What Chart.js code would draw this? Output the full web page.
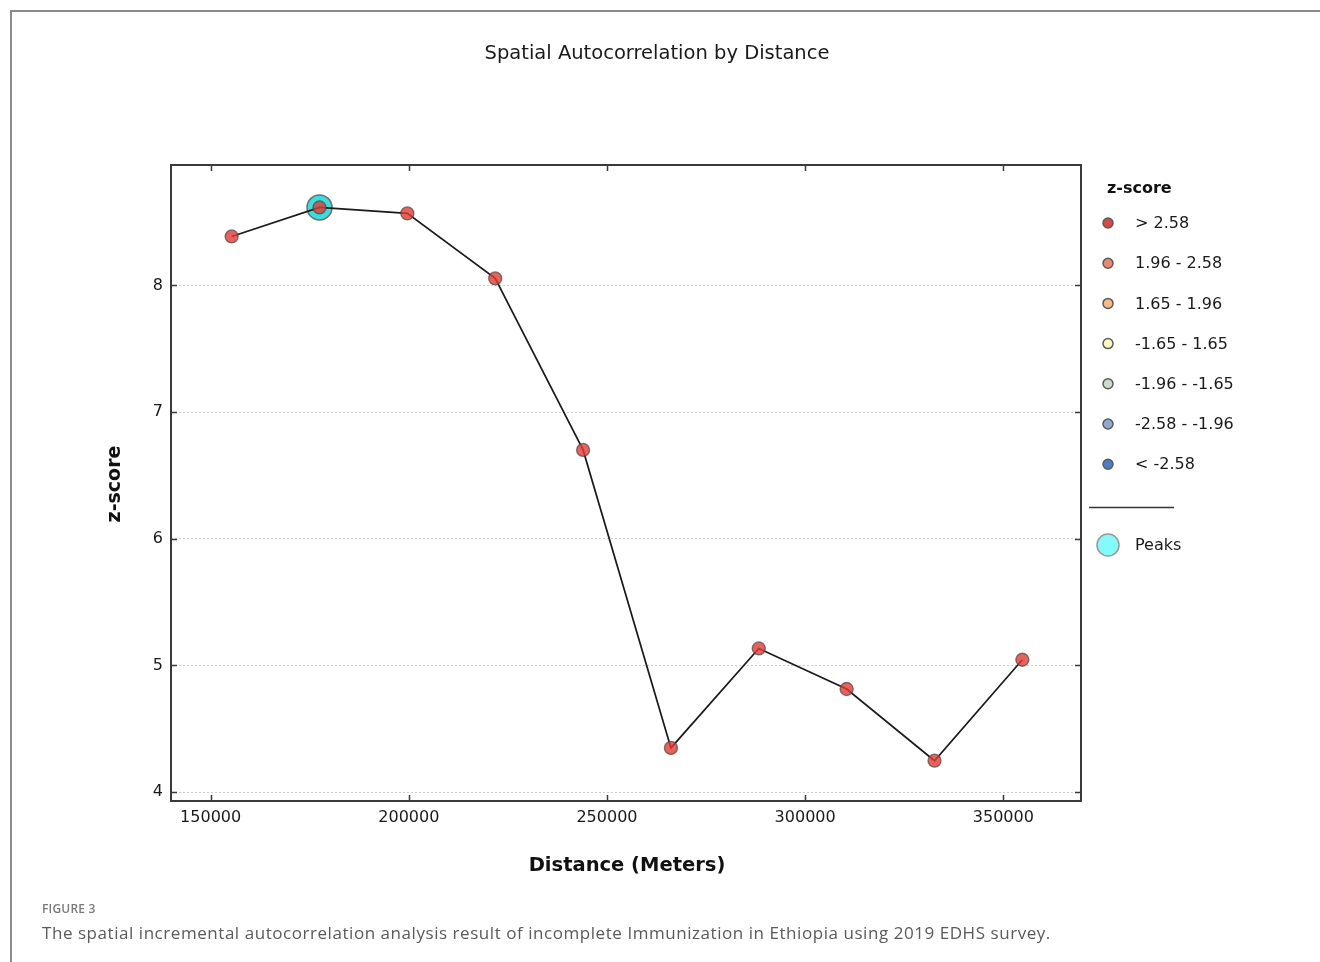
<!DOCTYPE html>
<html>
<head>
<meta charset="utf-8">
<script src="https://cdn.jsdelivr.net/npm/chart.js@4/dist/chart.umd.min.js"></script>
<style>
  html, body { margin: 0; padding: 0; background: #fff; }
  #wrap { position: relative; width: 1320px; height: 962px; overflow: hidden; }
  #chart { position: absolute; left: 0; top: 0; }
  #frame {
    position: absolute; left: 10px; top: 10px; width: 1400px; height: 1100px;
    border-left: 2px solid #8c8c8c; border-top: 2px solid #8c8c8c;
    pointer-events: none;
  }
  .figlabel {
    position: absolute; left: 42px; top: 900px;
    font-family: "Open Sans", sans-serif; font-size: 12px; font-weight: 600;
    color: #7a7a7a; letter-spacing: 0.2px;
  }
  .figcaption {
    position: absolute; left: 42px; top: 921px;
    font-family: "Open Sans", sans-serif; font-size: 17px; letter-spacing: 0.55px;
    color: #5a5a5a; white-space: nowrap;
  }
</style>
</head>
<body>
<div id="wrap">
  <canvas id="chart" width="1320" height="962"></canvas>
  <div id="frame"></div>
  <div class="figlabel">FIGURE 3</div>
  <div class="figcaption">The spatial incremental autocorrelation analysis result of incomplete Immunization in Ethiopia using 2019 EDHS survey.</div>
</div>
<script>
// Incremental distance bands (meters) and the z-score found at each band
const distances = [155300, 177470, 199630, 221800, 243970, 266140, 288300, 310470, 332640, 354800];
const zScores   = [8.386, 8.615, 8.568, 8.055, 6.701, 4.349, 5.134, 4.814, 4.248, 5.045];

// Peak distance band(s)
const peakDistances = [177470];
const peakZScores   = [8.615];

// Axis tick values
const xTickValues = [150000, 200000, 250000, 300000, 350000];
const yTickValues = [4, 5, 6, 7, 8];

// z-score classes shown in the legend
const classLabels = ["> 2.58", "1.96 - 2.58", "1.65 - 1.96", "-1.65 - 1.65", "-1.96 - -1.65", "-2.58 - -1.96", "< -2.58"];
const classColors = ["#d94a47", "#eb8a6a", "#f6ba85", "#fbfabd", "#cadccb", "#8ea9d2", "#4c7bc9"];

const chartTitle = "Spatial Autocorrelation by Distance";
const xTitle = "Distance (Meters)";
const yTitle = "z-score";
const legendTitle = "z-score";
const peakLabel = "Peaks";

const axisFont = '"DejaVu Sans", sans-serif';

const points = distances.map((d, i) => ({ x: d, y: zScores[i] }));
const peaks = peakDistances.map((d, i) => ({ x: d, y: peakZScores[i] }));

// Frame, inward ticks, titles and the class legend
const decorations = {
  id: 'decorations',
  afterDraw(chart) {
    const { ctx, chartArea: a, scales } = chart;
    const xs = scales.x, ys = scales.y;
    ctx.save();

    // plot frame
    ctx.strokeStyle = '#3a3a3a';
    ctx.lineWidth = 2;
    ctx.strokeRect(a.left, a.top, a.right - a.left, a.bottom - a.top);

    // inward tick marks on all four sides
    ctx.lineWidth = 1.5;
    ctx.beginPath();
    xs.ticks.forEach(t => {
      const px = Math.round(xs.getPixelForValue(t.value)) + 0.5;
      ctx.moveTo(px, a.bottom); ctx.lineTo(px, a.bottom - 6);
      ctx.moveTo(px, a.top); ctx.lineTo(px, a.top + 6);
    });
    ys.ticks.forEach(t => {
      const py = Math.round(ys.getPixelForValue(t.value)) + 0.5;
      ctx.moveTo(a.left, py); ctx.lineTo(a.left + 6, py);
      ctx.moveTo(a.right, py); ctx.lineTo(a.right - 6, py);
    });
    ctx.stroke();

    // chart title
    ctx.fillStyle = '#1a1a1a';
    ctx.textAlign = 'center';
    ctx.textBaseline = 'middle';
    ctx.font = '19.5px ' + axisFont;
    ctx.fillText(chartTitle, 657, 54);

    // axis titles
    ctx.font = 'bold 19.5px ' + axisFont;
    ctx.fillStyle = '#111';
    ctx.fillText(xTitle, 627, 866);
    ctx.save();
    ctx.translate(115, 484);
    ctx.rotate(-Math.PI / 2);
    ctx.font = 'bold 19px ' + axisFont;
    ctx.fillText(yTitle, 0, 0);
    ctx.restore();

    // legend
    const lx = 1108, tx = 1135;
    ctx.textAlign = 'left';
    ctx.font = 'bold 16px ' + axisFont;
    ctx.fillStyle = '#111';
    ctx.fillText(legendTitle, 1107, 189);
    ctx.font = '16px ' + axisFont;
    classLabels.forEach((lab, i) => {
      const y = 223 + i * 40.2;
      ctx.beginPath();
      ctx.arc(lx, y, 5, 0, Math.PI * 2);
      ctx.fillStyle = classColors[i];
      ctx.fill();
      ctx.lineWidth = 1.5;
      ctx.strokeStyle = '#5a5a5a';
      ctx.stroke();
      ctx.fillStyle = '#1a1a1a';
      ctx.fillText(lab, tx, y + 1);
    });

    // separator
    ctx.beginPath();
    ctx.moveTo(1089, 507.5); ctx.lineTo(1174, 507.5);
    ctx.lineWidth = 1.5;
    ctx.strokeStyle = '#333';
    ctx.stroke();

    // peaks entry
    ctx.beginPath();
    ctx.arc(lx, 545, 11, 0, Math.PI * 2);
    ctx.fillStyle = '#83fbfb';
    ctx.fill();
    ctx.lineWidth = 1.5;
    ctx.strokeStyle = '#9a9a9a';
    ctx.stroke();
    ctx.fillStyle = '#1a1a1a';
    ctx.fillText(peakLabel, tx, 546);

    ctx.restore();
  }
};

new Chart(document.getElementById('chart'), {
  type: 'scatter',
  data: {
    datasets: [
      {
        label: 'z-score',
        data: points,
        showLine: true,
        borderColor: '#1a1a1a',
        borderWidth: 1.7,
        pointRadius: 6.5,
        pointBackgroundColor: 'rgba(228, 58, 50, 0.8)',
        pointBorderColor: 'rgba(70, 70, 70, 0.7)',
        pointBorderWidth: 1.3,
        order: 1
      },
      {
        label: 'Peaks',
        data: peaks,
        showLine: false,
        pointRadius: 12.5,
        pointBackgroundColor: '#36e0e0',
        pointBorderColor: '#6f6f6f',
        pointBorderWidth: 1.5,
        order: 2
      }
    ]
  },
  options: {
    responsive: false,
    animation: false,
    devicePixelRatio: 1,
    layout: { padding: { left: 0, right: 239, top: 165, bottom: 0 } },
    plugins: {
      legend: { display: false },
      tooltip: { enabled: false },
      title: { display: false }
    },
    scales: {
      x: {
        type: 'linear',
        min: 140000,
        max: 369600,
        afterFit(s) { s.height = 161; },
        afterBuildTicks(s) { s.ticks = xTickValues.map(v => ({ value: v })); },
        border: { display: false },
        grid: { display: false, drawTicks: false },
        ticks: {
          padding: 7,
          color: '#1a1a1a',
          font: { family: axisFont, size: 16 },
          maxRotation: 0,
          autoSkip: false,
          callback: v => String(v)
        }
      },
      y: {
        type: 'linear',
        min: 3.93,
        max: 8.95,
        afterFit(s) { s.width = 171; },
        afterBuildTicks(s) { s.ticks = yTickValues.map(v => ({ value: v })); },
        border: { display: false, dash: [2, 2] },
        grid: {
          drawTicks: false,
          color: '#d2c8d2',
          lineWidth: 1
        },
        ticks: {
          padding: 8,
          color: '#1a1a1a',
          autoSkip: false,
          font: { family: axisFont, size: 16 },
          callback: v => String(v)
        }
      }
    }
  },
  plugins: [decorations]
});
</script>
</body>
</html>
